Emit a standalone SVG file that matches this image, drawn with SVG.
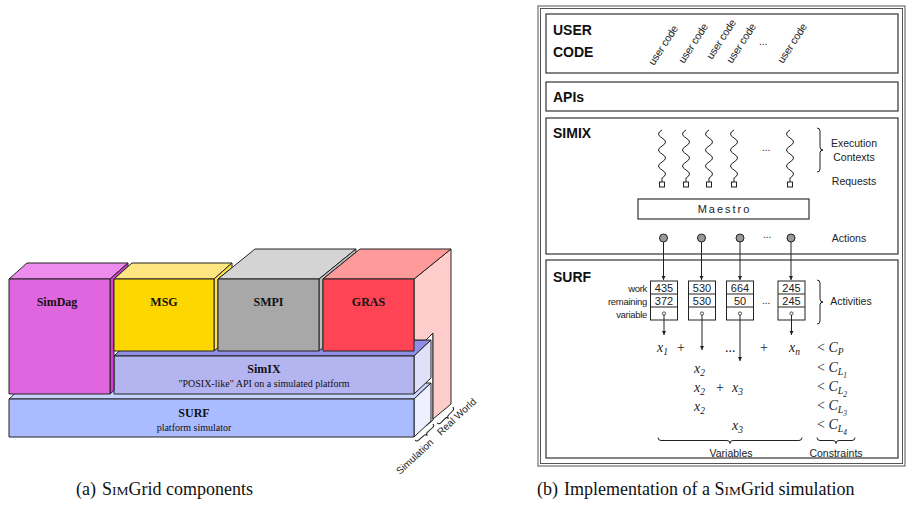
<svg xmlns="http://www.w3.org/2000/svg" width="912" height="514" viewBox="0 0 912 514">
<style>
.e{stroke:#222;stroke-width:1;stroke-linejoin:round}
.lb{font-family:"Liberation Serif",serif;font-weight:bold;font-size:12px;fill:#111;text-anchor:middle}
.ls{font-family:"Liberation Serif",serif;font-size:10px;fill:#111;text-anchor:middle}
.rot{font-family:"Liberation Sans",sans-serif;font-size:10px;fill:#222}
.uc{font-family:"Liberation Sans",sans-serif;font-size:10.6px;fill:#222;letter-spacing:-0.2px}
.box{fill:#fff;stroke:#333;stroke-width:1.2}
.h{font-family:"Liberation Sans",sans-serif;font-weight:bold;font-size:14px;fill:#111}
.s{font-family:"Liberation Sans",sans-serif;font-size:10.5px;fill:#222;text-anchor:middle}
.sm{font-family:"Liberation Sans",sans-serif;font-size:9.5px;fill:#222;text-anchor:end;letter-spacing:-0.3px}
.num{font-family:"Liberation Sans",sans-serif;font-size:11px;fill:#222;text-anchor:middle}
.m{font-family:"Liberation Serif",serif;font-size:14px;fill:#222}
.i{font-style:italic}
.cap{font-family:"Liberation Serif",serif;font-size:18px;fill:#111}
.w{fill:none;stroke:#222;stroke-width:1}
.ar{stroke:#222;stroke-width:1;fill:none;marker-end:url(#ah)}
</style>
<defs>
<marker id="ah" viewBox="0 0 6 6" refX="6" refY="3" markerWidth="4.5" markerHeight="4.5" orient="auto" markerUnits="userSpaceOnUse"><path d="M0,0 L6,3 L0,6 z" fill="#222"/></marker>
</defs>
<rect width="912" height="514" fill="#fff"/>

<!-- LEFT: SimGrid components -->
<g id="simulation-slab"><polygon class="e" fill="#fff" points="426,340 433,333 433,420 426,426"/></g>
<g id="surf-layer">
<polygon class="e" fill="#C9D3FF" points="9,399 26,383 431,383 414,399"/>
<polygon class="e" fill="#EEF0FF" points="414,399 431,383 431,421 414,437"/>
<rect class="e" fill="#AABBFF" x="9" y="399" width="405" height="38"/>
<text class="lb" x="194" y="417">SURF</text>
<text class="ls" x="194" y="431">platform simulator</text>
</g>
<g id="simix-layer">
<polygon class="e" fill="#8E8EE6" points="114,356 131,340 431,340 414,356"/>
<polygon class="e" fill="#E0E0F8" points="414,356 431,340 431,378 414,394"/>
<rect class="e" fill="#B4B4F0" x="114" y="356" width="300" height="38"/>
<text class="lb" x="264" y="373">SimIX</text>
<text class="ls" x="264" y="387">"POSIX-like" API on a simulated platform</text>
</g>
<g id="simdag">
<polygon class="e" fill="#EE8CEE" points="9,279 27,263 128,263 110,279"/>
<polygon class="e" fill="#D040D0" points="110,279 128,263 128,266.6 114,279 114,390.4 110,394"/>
<rect class="e" fill="#E066E0" x="9" y="279" width="101" height="115"/>
<text class="lb" x="57" y="306">SimDag</text>
</g>
<g id="msg">
<polygon class="e" fill="#FFE680" points="114,279 132,263 232,263 214,279"/>
<polygon class="e" fill="#FFE34D" points="214,279 232,263 232,267.6 218,279 218,347.4 214,351"/>
<rect class="e" fill="#FFD700" x="114" y="279" width="100" height="72"/>
<text class="lb" x="164" y="306">MSG</text>
</g>
<g id="smpi">
<polygon class="e" fill="#D4D4D4" points="218,279 255,249 356,249 319,279"/>
<polygon class="e" fill="#BEBEBE" points="319,279 356,249 356,252.2 323,279 323,347.6 319,351"/>
<rect class="e" fill="#A8A8A8" x="218" y="279" width="101" height="72"/>
<text class="lb" x="268.5" y="306">SMPI</text>
</g>
<g id="gras">
<polygon class="e" fill="#FFCCCC" points="414,279 451,249 451,404 433,419 433,333 426,340 414,340"/>
<polygon class="e" fill="#FF9A9A" points="323,279 360,249 451,249 414,279"/>
<rect class="e" fill="#FF4455" x="323" y="279" width="91" height="72"/>
<text class="lb" x="368.5" y="306">GRAS</text>
</g>
<g id="scope-labels">
<path class="w" transform="translate(424,432) rotate(-42)" d="M-12,0 q0,2.5 2.5,2.5 h7 q2.5,0 2.5,2.5 q0,-2.5 2.5,-2.5 h7 q2.5,0 2.5,-2.5"/>
<path class="w" transform="translate(445,415) rotate(-45)" d="M-11,0 q0,2.5 2.5,2.5 h6 q2.5,0 2.5,2.5 q0,-2.5 2.5,-2.5 h6 q2.5,0 2.5,-2.5"/>
<text class="rot" transform="translate(400,475) rotate(-43)">Simulation</text>
<text class="rot" transform="translate(441,436) rotate(-43)">Real World</text>
</g>

<!-- RIGHT: implementation -->
<g id="frame">
<rect x="538" y="6" width="367" height="460" fill="none" stroke="#555" stroke-width="1"/>
<rect x="540.5" y="8.5" width="362" height="455" fill="none" stroke="#555" stroke-width="1"/>
</g>
<g id="user-code">
<rect class="box" x="546" y="14" width="352" height="59"/>
<text class="h" x="553" y="35">USER</text>
<text class="h" x="553" y="57">CODE</text>
<text class="uc" transform="translate(654,66) rotate(-57)">user code</text>
<text class="uc" transform="translate(684,64) rotate(-57)">user code</text>
<text class="uc" transform="translate(712,60) rotate(-57)">user code</text>
<text class="uc" transform="translate(732,64) rotate(-57)">user code</text>
<text class="rot" x="759" y="45" font-size="9">...</text>
<text class="uc" transform="translate(783,64) rotate(-57)">user code</text>
</g>
<g id="apis">
<rect class="box" x="546" y="82" width="352" height="29"/>
<text class="h" x="553" y="102">APIs</text>
</g>
<g id="simix">
<rect class="box" x="546" y="118" width="352" height="136"/>
<text class="h" x="553" y="138">SIMIX</text>
<path class="w" d="M662,130 q-7,4 0,8 t0,8 t0,8 t0,8 t0,8 t0,8 v4"/>
<path class="w" d="M686,130 q-7,4 0,8 t0,8 t0,8 t0,8 t0,8 t0,8 v4"/>
<path class="w" d="M709,130 q-7,4 0,8 t0,8 t0,8 t0,8 t0,8 t0,8 v4"/>
<path class="w" d="M734,130 q-7,4 0,8 t0,8 t0,8 t0,8 t0,8 t0,8 v4"/>
<path class="w" d="M790,130 q-7,4 0,8 t0,8 t0,8 t0,8 t0,8 t0,8 v4"/>
<rect x="659.5" y="182" width="5" height="5" fill="#fff" stroke="#222"/>
<rect x="683.5" y="182" width="5" height="5" fill="#fff" stroke="#222"/>
<rect x="706.5" y="182" width="5" height="5" fill="#fff" stroke="#222"/>
<rect x="731.5" y="182" width="5" height="5" fill="#fff" stroke="#222"/>
<rect x="787.5" y="182" width="5" height="5" fill="#fff" stroke="#222"/>
<text class="rot" x="762" y="151" font-size="9">...</text>
<path class="w" d="M817,128 q3,0 3,3 v16 q0,3 3,3 q-3,0 -3,3 v16 q0,3 -3,3"/>
<text class="s" x="854" y="147">Execution</text>
<text class="s" x="854" y="161">Contexts</text>
<text class="s" x="854" y="185">Requests</text>
<rect x="638" y="199" width="171" height="20" fill="#fff" stroke="#333" stroke-width="1.2"/>
<text class="num" x="724.5" y="213" letter-spacing="2">Maestro</text>
<circle cx="663.5" cy="238" r="4" fill="#999" stroke="#222"/>
<circle cx="701.5" cy="238" r="4" fill="#999" stroke="#222"/>
<circle cx="740" cy="238" r="4" fill="#999" stroke="#222"/>
<circle cx="791" cy="238" r="4" fill="#999" stroke="#222"/>
<text class="rot" x="763" y="238" font-size="9">...</text>
<text class="s" x="849" y="242">Actions</text>
</g>
<g id="surf">
<rect class="box" x="546" y="260" width="352" height="198"/>
<text class="h" x="553" y="282">SURF</text>
<text class="sm" x="647" y="291.5">work</text>
<text class="sm" x="647" y="304.5">remaining</text>
<text class="sm" x="647" y="317.5">variable</text>
<g fill="#fff" stroke="#222" stroke-width="1">
<rect x="650.5" y="281" width="27" height="39"/><path d="M650.5,294 h27 M650.5,307 h27"/>
<rect x="688.5" y="281" width="27" height="39"/><path d="M688.5,294 h27 M688.5,307 h27"/>
<rect x="726.5" y="281" width="27" height="39"/><path d="M726.5,294 h27 M726.5,307 h27"/>
<rect x="778" y="281" width="27" height="39"/><path d="M778,294 h27 M778,307 h27"/>
</g>
<text class="num" x="664" y="292">435</text><text class="num" x="664" y="305">372</text>
<text class="num" x="702" y="292">530</text><text class="num" x="702" y="305">530</text>
<text class="num" x="740" y="292">664</text><text class="num" x="740" y="305">50</text>
<text class="num" x="791.5" y="292">245</text><text class="num" x="791.5" y="305">245</text>
<text class="rot" x="762" y="304" font-size="9">...</text>
<circle cx="664" cy="313.5" r="1.6" fill="#fff" stroke="#222" stroke-width="0.8"/>
<circle cx="702" cy="313.5" r="1.6" fill="#fff" stroke="#222" stroke-width="0.8"/>
<circle cx="740" cy="313.5" r="1.6" fill="#fff" stroke="#222" stroke-width="0.8"/>
<circle cx="791.5" cy="313.5" r="1.6" fill="#fff" stroke="#222" stroke-width="0.8"/>
<path class="w" d="M817,280 q3,0 3,3 v16 q0,3 3,3 q-3,0 -3,3 v16 q0,3 -3,3"/>
<text class="s" x="851" y="305">Activities</text>
</g>
<g id="connectors">
<line class="ar" x1="663.5" y1="242" x2="663.5" y2="280"/>
<line class="ar" x1="701.5" y1="242" x2="701.5" y2="280"/>
<line class="ar" x1="740" y1="242" x2="740" y2="280"/>
<line class="ar" x1="791" y1="242" x2="791" y2="280"/>
<line class="ar" x1="664" y1="315" x2="664" y2="335"/>
<line class="ar" x1="702" y1="315" x2="702" y2="350"/>
<line class="ar" x1="740" y1="315" x2="740" y2="361"/>
<line class="ar" x1="791.5" y1="315" x2="791.5" y2="335"/>
</g>
<g id="equations">
<text class="m i" x="657" y="352">x<tspan font-size="9.5" dy="2.5">1</tspan></text>
<text class="m" x="677" y="352" font-size="12">+</text>
<text class="m" x="725" y="352" font-size="12">...</text>
<text class="m" x="760" y="352" font-size="12">+</text>
<text class="m i" x="789" y="352">x<tspan font-size="9.5" dy="2.5">n</tspan></text>
<text class="m i" x="694" y="373">x<tspan font-size="9.5" dy="2.5">2</tspan></text>
<text class="m i" x="694" y="392">x<tspan font-size="9.5" dy="2.5">2</tspan></text>
<text class="m" x="716" y="392" font-size="12">+</text>
<text class="m i" x="732" y="392">x<tspan font-size="9.5" dy="2.5">3</tspan></text>
<text class="m i" x="694" y="411">x<tspan font-size="9.5" dy="2.5">2</tspan></text>
<text class="m i" x="732" y="430">x<tspan font-size="9.5" dy="2.5">3</tspan></text>
<text class="m" x="817" y="352">&lt; <tspan class="i">C</tspan><tspan class="i" font-size="9.5" dy="2.5">P</tspan></text>
<text class="m" x="817" y="372">&lt; <tspan class="i">C</tspan><tspan class="i" font-size="10" dy="3">L</tspan><tspan class="i" font-size="7.5" dy="2.5">1</tspan></text>
<text class="m" x="817" y="391">&lt; <tspan class="i">C</tspan><tspan class="i" font-size="10" dy="3">L</tspan><tspan class="i" font-size="7.5" dy="2.5">2</tspan></text>
<text class="m" x="817" y="410">&lt; <tspan class="i">C</tspan><tspan class="i" font-size="10" dy="3">L</tspan><tspan class="i" font-size="7.5" dy="2.5">3</tspan></text>
<text class="m" x="817" y="429">&lt; <tspan class="i">C</tspan><tspan class="i" font-size="10" dy="3">L</tspan><tspan class="i" font-size="7.5" dy="2.5">4</tspan></text>
<path class="w" d="M658,437.5 q0,3 3,3 h66 q3,0 3,3 q0,-3 3,-3 h66 q3,0 3,-3"/>
<path class="w" d="M817,437.5 q0,3 3,3 h13 q3,0 3,3 q0,-3 3,-3 h13 q3,0 3,-3"/>
<text class="s" x="731" y="457">Variables</text>
<text class="s" x="836" y="457">Constraints</text>
</g>
<g id="captions">
<text class="cap" x="76" y="495">(a)<tspan dx="6">S</tspan><tspan font-size="13.5">IM</tspan>Grid components</text>
<text class="cap" x="537" y="495">(b)<tspan dx="6">Implementation of a S</tspan><tspan font-size="13.5">IM</tspan>Grid simulation</text>
</g>
</svg>
